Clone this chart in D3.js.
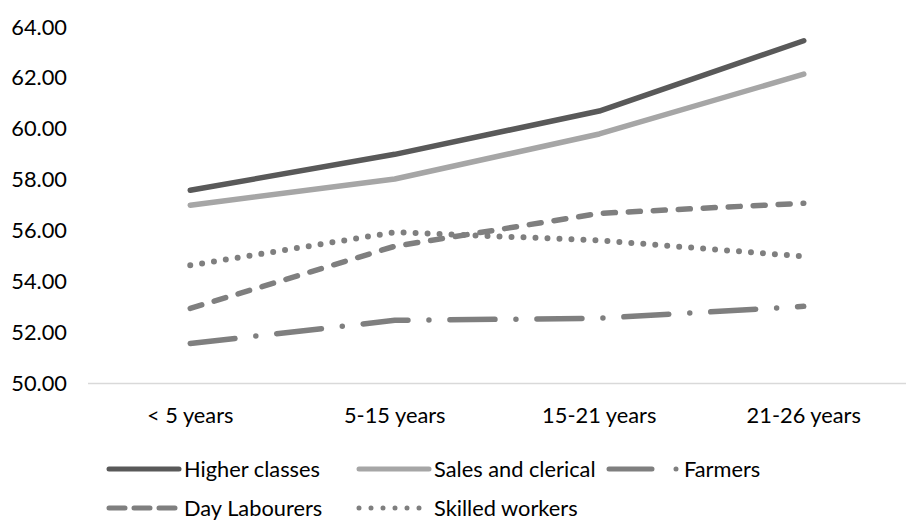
<!DOCTYPE html>
<html>
<head>
<meta charset="utf-8">
<script src="https://cdn.jsdelivr.net/npm/d3@7"></script>
<style>
  body { margin: 0; background: #fff; }
  text { font-family: Lato, "Open Sans", sans-serif; fill: #000; }
</style>
</head>
<body>
<svg id="chart"></svg>
<script>
const categories = ['< 5 years', '5-15 years', '15-21 years', '21-26 years'];
const higherClasses = [57.59, 59.0, 60.70, 63.46];
const salesClerical = [57.0, 58.03, 59.80, 62.15];
const farmers = [51.57, 52.48, 52.56, 53.03];
const dayLabourers = [52.95, 55.39, 56.68, 57.08];
const skilledWorkers = [54.64, 55.94, 55.62, 54.99];
const yTicks = [50, 52, 54, 56, 58, 60, 62, 64];

const series = [
  { name: 'Higher classes', values: higherClasses, color: '#595959', dash: null },
  { name: 'Sales and clerical', values: salesClerical, color: '#a6a6a6', dash: null },
  { name: 'Farmers', values: farmers, color: '#7f7f7f', dash: '45,21,0,21' },
  { name: 'Day Labourers', values: dayLabourers, color: '#7f7f7f', dash: '12,13' },
  { name: 'Skilled workers', values: skilledWorkers, color: '#7f7f7f', dash: '0,12' }
];

let svgWidth = 914, svgHeight = 522;
let margin = { top: 27, right: 8, bottom: 138.5, left: 88 };
let width = svgWidth - margin.left - margin.right;
let height = svgHeight - margin.top - margin.bottom;
let fontSize = '21.8px';

let svg = d3.select('#chart')
  .attr('width', svgWidth)
  .attr('height', svgHeight);

let g = svg.append('g')
  .attr('transform', 'translate(' + margin.left + ',' + margin.top + ')');

let x = d3.scaleBand().domain(categories).range([0, width]);
let y = d3.scaleLinear().domain([50, 64]).range([height, 0]);

// y labels
g.selectAll('.ylab')
  .data(yTicks)
  .enter().append('text')
  .attr('class', 'ylab')
  .attr('x', -21)
  .attr('y', d => y(d) + 7.5)
  .attr('text-anchor', 'end')
  .style('font-size', fontSize)
  .text(d => d.toFixed(2));

// baseline
g.append('line')
  .attr('x1', 0).attr('x2', width)
  .attr('y1', y(50)).attr('y2', y(50))
  .attr('stroke', '#d9d9d9')
  .attr('stroke-width', 1.3);

// x labels
g.selectAll('.xlab')
  .data(categories)
  .enter().append('text')
  .attr('class', 'xlab')
  .attr('x', d => x(d) + x.bandwidth() / 2)
  .attr('y', y(50) + 39)
  .attr('text-anchor', 'middle')
  .style('font-size', fontSize)
  .text(d => d);

let line = d3.line()
  .x((d, i) => x(categories[i]) + x.bandwidth() / 2)
  .y(d => y(d));

series.forEach(s => {
  g.append('path')
    .datum(s.values)
    .attr('fill', 'none')
    .attr('stroke', s.color)
    .attr('stroke-width', s.dash === '0,12' ? 6 : 5.5)
    .attr('stroke-linejoin', 'round')
    .attr('stroke-linecap', 'round')
    .attr('stroke-dasharray', s.dash)
    .attr('d', line);
});

// legend
let legendPos = [[107, 469], [357, 469], [607, 469], [107, 508], [357, 508]];
let legend = svg.selectAll('.legend')
  .data(series)
  .enter().append('g')
  .attr('class', 'legend')
  .attr('transform', (d, i) => 'translate(' + legendPos[i][0] + ',' + legendPos[i][1] + ')');

legend.append('line')
  .attr('x1', 2).attr('x2', 72)
  .attr('y1', 0).attr('y2', 0)
  .attr('stroke', d => d.color)
  .attr('stroke-width', d => d.dash === '0,12' ? 5 : 5)
  .attr('stroke-linecap', 'round')
  .attr('stroke-dasharray', d => d.dash === '12,13' ? '16,9' : d.dash === '45,21,0,21' ? '43,24,0,30' : d.dash);

legend.append('text')
  .attr('x', 77)
  .attr('y', 7.5)
  .style('font-size', fontSize)
  .text(d => d.name);
</script>
</body>
</html>
